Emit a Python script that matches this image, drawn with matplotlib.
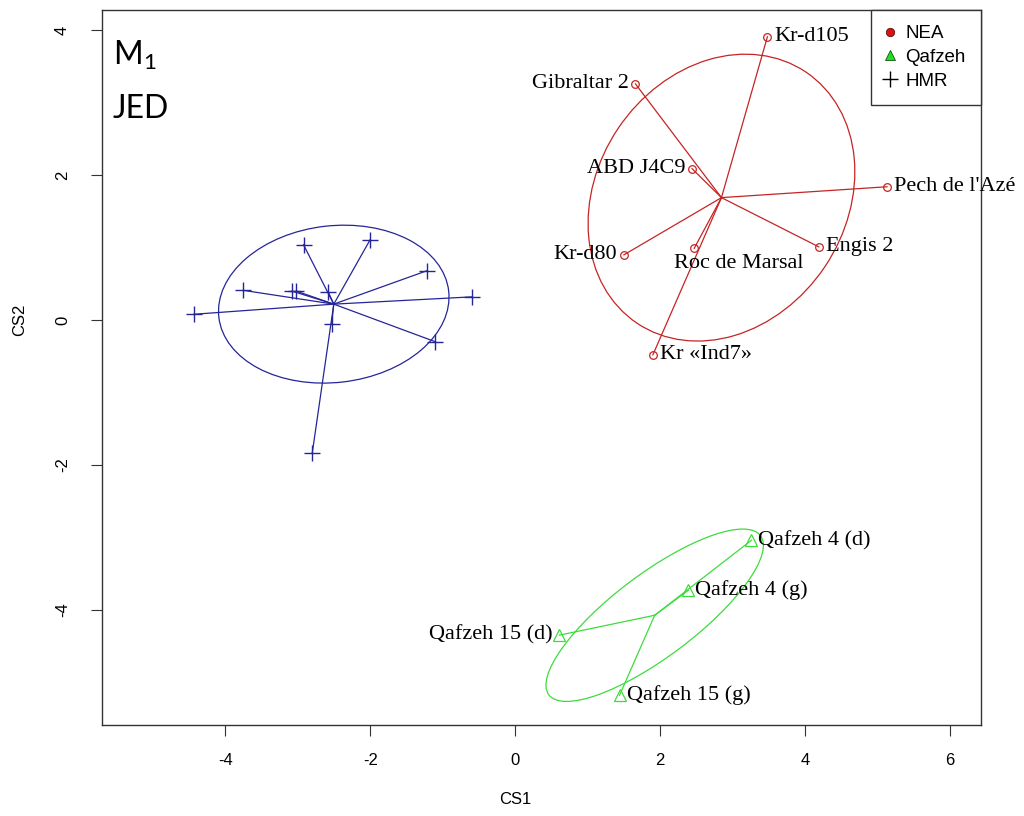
import numpy as np
import matplotlib.pyplot as plt
from matplotlib.patches import Ellipse
from matplotlib.lines import Line2D


NEA_NAMES = ["Kr-d105", "Gibraltar 2", "ABD J4C9", "Pech de l'Azé",
             "Kr-d80", "Roc de Marsal", "Engis 2", "Kr «Ind7»"]
NEA_X = [3.48, 1.66, 2.44, 5.13, 1.50, 2.47, 4.19, 1.90]
NEA_Y = [3.91, 3.26, 2.09, 1.84, 0.90, 0.99, 1.01, -0.48]

QAF_NAMES = ["Qafzeh 4 (d)", "Qafzeh 4 (g)", "Qafzeh 15 (d)", "Qafzeh 15 (g)"]
QAF_X = [3.26, 2.39, 0.61, 1.44]
QAF_Y = [-3.04, -3.73, -4.35, -5.18]

HMR_X = [-2.92, -2.00, -1.22, -0.60, -1.10, -2.53, -2.80, -4.43, -3.75, -3.08, -3.02, -2.58]
HMR_Y = [1.04, 1.11, 0.68, 0.32, -0.30, -0.055, -1.84, 0.08, 0.41, 0.40, 0.40, 0.39]

# ellipse half extents along CS1 / CS2 and correlation, per group
GROUPS = ["NEA", "Qafzeh", "HMR"]
ELL_SX = [1.84, 1.50, 1.59]
ELL_SY = [1.98, 1.19, 1.09]
ELL_R = [0.18, 0.81, 0.09]

XTICKS = [-4, -2, 0, 2, 4, 6]
YTICKS = [-4, -2, 0, 2, 4]

RED = "#c62424"
GREEN = "#3ddc3d"
BLUE = "#25259a"

# which side of the point each label sits on
LEFT_LABELS = ["Gibraltar 2", "ABD J4C9", "Kr-d80", "Qafzeh 15 (d)"]
BELOW_LABELS = ["Roc de Marsal"]


def add_ellipse(ax, cx, cy, sx, sy, r, color):
    cov = np.array([[sx * sx, r * sx * sy], [r * sx * sy, sy * sy]])
    vals, vecs = np.linalg.eigh(cov)
    angle = np.degrees(np.arctan2(vecs[1, 1], vecs[0, 1]))
    e = Ellipse((cx, cy), 2 * np.sqrt(vals[1]), 2 * np.sqrt(vals[0]), angle=angle,
                fill=False, edgecolor=color, lw=0.9)
    ax.add_patch(e)


def draw_group(ax, xs, ys, color, marker, ms, ell_idx):
    cx, cy = np.mean(xs), np.mean(ys)
    for x, y in zip(xs, ys):
        ax.plot([cx, x], [cy, y], color=color, lw=0.9)
    if marker == "+":
        ax.plot(xs, ys, ls="none", marker="+", ms=ms, mew=1.0, color=color)
    else:
        ax.plot(xs, ys, ls="none", marker=marker, ms=ms, mfc="none", mec=color, mew=0.9)
    add_ellipse(ax, cx, cy, ELL_SX[ell_idx], ELL_SY[ell_idx], ELL_R[ell_idx], color)


def label_points(ax, names, xs, ys):
    for name, x, y in zip(names, xs, ys):
        if name in LEFT_LABELS:
            off, ha = (-7, 0), "right"
        elif name in BELOW_LABELS:
            off, ha = (-20, -15), "left"
        else:
            off, ha = (7, 0), "left"
        ax.annotate(name, (x, y), xytext=off, textcoords="offset pixels",
                    ha=ha, va="center", fontsize=16, family="Liberation Serif",
                    annotation_clip=False)


def main() -> None:
    plt.rcParams["font.family"] = ["Liberation Sans", "DejaVu Sans"]
    plt.rcParams["axes.unicode_minus"] = False
    plt.rcParams["mathtext.fontset"] = "custom"
    plt.rcParams["mathtext.rm"] = "Lato"

    fig = plt.figure(figsize=(10.24, 8.16), dpi=100)
    ax = fig.add_axes([102 / 1024, 1 - 725 / 816, 878.5 / 1024, 715 / 816])

    draw_group(ax, NEA_X, NEA_Y, RED, "o", 5.5, 0)
    draw_group(ax, QAF_X, QAF_Y, GREEN, "^", 8, 1)
    draw_group(ax, HMR_X, HMR_Y, BLUE, "+", 11, 2)

    label_points(ax, NEA_NAMES, NEA_X, NEA_Y)
    label_points(ax, QAF_NAMES, QAF_X, QAF_Y)

    ax.set_xlim(-5.70, 6.42)
    ax.set_ylim(-5.59, 4.28)
    ax.set_xticks(XTICKS)
    ax.set_yticks(YTICKS)
    ax.tick_params(axis="x", length=8, pad=12, labelsize=12, color="#333333")
    ax.tick_params(axis="y", length=8, pad=15, labelsize=12, color="#333333",
                   labelrotation=90)
    for lab in ax.get_yticklabels():
        lab.set_va("center")
    for sp in ax.spines.values():
        sp.set_color("#333333")
        sp.set_linewidth(1.0)

    fig.text(515 / 1024, 1 - 800 / 816, "CS1", ha="center", va="center", fontsize=12)
    fig.text(20 / 1024, 1 - 320 / 816, "CS2", ha="center", va="center", fontsize=12,
             rotation=90)

    ax.text(0.012, 0.923, r"M$_\mathrm{1}$", transform=ax.transAxes, fontsize=23,
            family="Lato", va="baseline")
    ax.text(0.012, 0.849, "JED", transform=ax.transAxes, fontsize=23,
            family="Lato", va="baseline")

    handles = [
        Line2D([], [], ls="none", marker="o", ms=6, mfc="#dd1111", mec="#551111", mew=0.6),
        Line2D([], [], ls="none", marker="^", ms=7, mfc="#22dd22", mec="#115511", mew=0.6),
        Line2D([], [], ls="none", marker="+", ms=11, mew=1.0, color="black"),
    ]
    leg = ax.legend(handles, GROUPS, loc="upper right", bbox_to_anchor=(1, 1),
                    borderaxespad=0, fontsize=13.5, fancybox=False, edgecolor="#333333",
                    framealpha=1, handlelength=0.4, handletextpad=0.6,
                    labelspacing=0.36, borderpad=0.8)
    leg.get_frame().set_linewidth(1.0)

    fig.savefig("out.png", dpi=100)


if __name__ == "__main__":
    main()
